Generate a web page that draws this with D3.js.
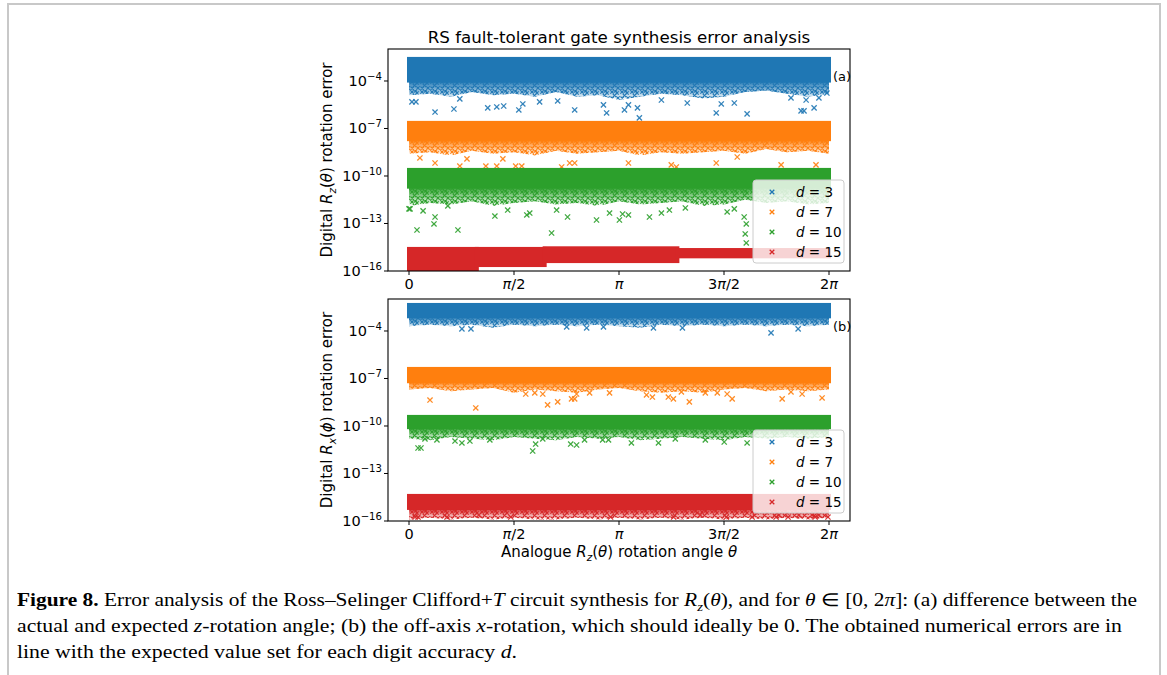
<!DOCTYPE html>
<html>
<head>
<meta charset="utf-8">
<script src="https://cdn.jsdelivr.net/npm/d3@7"></script>
<style>
  body { margin: 0; background: #fff; }
  svg text { font-family: "DejaVu Sans", sans-serif; fill: #000; }
  svg .caption text { font-family: "Liberation Serif", serif; }
</style>
</head>
<body>
<div id="root"></div>
<script>
// ---- data (θ in multiples of π, errors as log10 exponents) ----
const digitLabels = ["3", "7", "10", "15"];
const seriesColors = ["#1f77b4", "#ff7f0e", "#2ca02c", "#d62728"];
const thetaTicks = [0, 0.5, 1, 1.5, 2];
const thetaTickLabels = [["0"], ["π", "/2"], ["π"], ["3", "π", "/2"], ["2", "π"]];
const errorTicks = [-4, -7, -10, -13, -16];
const fringeTheta = [0, 0.1, 0.2, 0.3, 0.4, 0.5, 0.6, 0.7, 0.8, 0.9, 1.0,
                     1.1, 1.2, 1.3, 1.4, 1.5, 1.6, 1.7, 1.8, 1.9, 2.0];

// panel (a): Rz rotation error
// dense core segments: [θ start, θ end, log10 top, log10 bottom]
const coreA3 = [[0, 2, -2.48, -4.1]];
const coreA7 = [[0, 2, -6.52, -7.8]];
const coreA10 = [[0, 2, -9.49, -10.8]];
const coreA15 = [[0, 0.323, -14.48, -16], [0.323, 0.646, -14.48, -15.75],
                 [0.646, 1.278, -14.44, -15.5], [1.278, 2, -14.55, -15.2]];
// lower edge of the speckled fringe, one value per fringeTheta
const fringeA3 = [-4.9, -4.8, -5.0, -4.7, -4.9, -4.8, -5.0, -4.7, -5.0, -4.9, -5.2,
                  -5.0, -4.8, -4.9, -5.1, -5.0, -4.7, -4.6, -4.8, -5.0, -4.8];
const fringeA7 = [-8.6, -8.5, -8.7, -8.4, -8.6, -8.5, -8.7, -8.4, -8.6, -8.5, -8.4,
                  -8.7, -8.5, -8.6, -8.5, -8.4, -8.6, -8.3, -8.5, -8.4, -8.6];
const fringeA10 = [-11.9, -11.7, -11.8, -11.6, -11.9, -11.7, -11.6, -11.8, -11.7, -11.9, -11.6,
                   -11.8, -11.7, -11.6, -11.9, -11.8, -11.5, -11.7, -11.6, -11.8, -11.7];
const fringeA15 = null;
// isolated points below each band: [θ, log10 error]
const outA3 = [[0.014, -5.32], [0.033, -5.32], [0.124, -5.96], [0.214, -5.77], [0.242, -5.13],
  [0.375, -5.70], [0.418, -5.64], [0.451, -5.58], [0.523, -5.83], [0.542, -5.45],
  [0.622, -5.32], [0.708, -5.26], [0.789, -5.83], [0.926, -5.51], [0.941, -6.02],
  [1.026, -5.83], [1.045, -5.51], [1.088, -5.70], [1.097, -6.33], [1.202, -5.20],
  [1.325, -5.39], [1.463, -6.02], [1.487, -5.45], [1.549, -5.39], [1.610, -6.08],
  [1.819, -5.07], [1.867, -5.89], [1.881, -5.89], [1.929, -5.70], [1.891, -5.20],
  [1.952, -5.07], [1.990, -4.76]];
const outA7 = [[0.052, -8.86], [0.124, -9.18], [0.242, -9.37], [0.276, -8.92], [0.366, -9.37],
  [0.418, -9.37], [0.447, -8.92], [0.508, -9.37], [0.537, -9.37], [0.727, -9.43],
  [0.765, -9.18], [0.789, -9.18], [1.045, -9.18], [1.249, -9.30], [1.273, -9.43],
  [1.463, -9.18], [1.563, -8.80], [1.772, -9.30], [1.938, -9.30]];
const outA10 = [[0.0, -12.08], [0.005, -12.08], [0.067, -12.2], [0.038, -13.41], [0.124, -12.59],
  [0.119, -13.03], [0.233, -13.41], [0.185, -11.89], [0.409, -12.53], [0.470, -12.15],
  [0.561, -12.46], [0.575, -12.34], [0.679, -13.6], [0.703, -12.15], [0.755, -12.59],
  [0.893, -12.78], [0.955, -12.34], [1.002, -12.78], [1.017, -12.4], [1.045, -12.46],
  [1.145, -12.59], [1.202, -12.34], [1.240, -12.15], [1.316, -12.02], [1.515, -12.27],
  [1.549, -12.08], [1.596, -12.59], [1.601, -13.66], [1.606, -14.23], [1.606, -13.03]];
const outA15 = [];

// panel (b): Rx off-axis rotation error
const coreB3 = [[0, 2, -2.23, -3.2]];
const coreB7 = [[0, 2, -6.27, -7.3]];
const coreB10 = [[0, 2, -9.30, -10.2]];
const coreB15 = [[0, 2, -14.29, -15.3]];
const fringeB3 = [-3.7, -3.6, -3.7, -3.6, -3.8, -3.6, -3.7, -3.6, -3.7, -3.6, -3.7,
                  -3.8, -3.6, -3.7, -3.6, -3.7, -3.6, -3.7, -3.6, -3.7, -3.6];
const fringeB7 = [-7.7, -7.6, -7.8, -7.7, -7.6, -7.9, -7.7, -7.8, -7.9, -7.7, -7.6,
                  -7.8, -7.9, -7.8, -7.9, -7.7, -7.6, -7.8, -7.7, -7.8, -7.7];
const fringeB10 = [-10.8, -10.9, -10.7, -10.8, -10.9, -10.7, -10.8, -10.9, -10.7, -10.8, -10.7,
                   -10.9, -10.8, -10.7, -10.8, -10.9, -10.7, -10.8, -10.7, -10.8, -10.7];
const fringeB15 = [-15.9, -15.8, -15.9, -15.8, -15.9, -15.8, -15.9, -15.9, -15.8, -15.9, -15.8,
                   -15.9, -15.8, -15.9, -15.8, -15.9, -15.8, -15.9, -15.8, -15.9, -15.8];
const outB3 = [[0.252, -3.87], [0.295, -3.87], [0.751, -3.74], [0.846, -3.81], [0.926, -3.74],
  [1.164, -3.81], [1.302, -3.81], [1.724, -4.12], [1.853, -3.87]];
const outB7 = [[0.1, -8.36], [0.318, -8.86], [0.556, -7.98], [0.599, -7.91], [0.637, -7.98],
  [0.660, -8.67], [0.708, -8.48], [0.774, -8.29], [0.789, -8.29], [0.798, -7.98],
  [0.860, -7.91], [0.955, -7.91], [1.131, -8.04], [1.159, -8.17], [1.235, -8.17],
  [1.259, -8.29], [1.335, -8.48], [1.297, -7.85], [1.411, -7.91], [1.468, -7.91],
  [1.515, -7.98], [1.539, -8.29], [1.777, -8.29], [1.819, -7.85], [1.872, -7.98], [1.967, -8.23]];
const outB10 = [[0.043, -11.39], [0.057, -11.39], [0.076, -10.82], [0.133, -10.88], [0.219, -10.95],
  [0.252, -11.07], [0.29, -10.95], [0.385, -10.88], [0.589, -11.58], [0.603, -11.14],
  [0.637, -10.82], [0.770, -11.14], [0.798, -11.2], [0.836, -10.88], [0.922, -10.88],
  [0.950, -10.88], [1.059, -11.07], [1.188, -11.07], [1.268, -10.82], [1.411, -10.88],
  [1.501, -11.01], [1.610, -11.07]];
const outB15 = [[0.029, -15.75], [0.043, -15.75], [0.181, -15.75], [0.333, -15.62], [0.485, -15.75],
  [0.960, -15.75], [1.26, -15.75], [1.387, -15.62], [1.511, -15.75], [1.634, -15.75],
  [1.748, -15.75], [1.805, -15.75], [1.934, -15.75], [1.995, -15.75], [1.762, -15.62],
  [1.857, -15.62], [1.919, -15.62], [1.952, -15.62]];

// ---- layout ----
const W = 1167, H = 675;
const svg = d3.select("#root").append("svg")
  .attr("width", W).attr("height", H);

// page frame of the article
svg.append("rect")
  .attr("x", 8).attr("y", 4).attr("width", 1152).attr("height", 700)
  .attr("fill", "none").attr("stroke", "#c8c8c8").attr("stroke-width", 2);

const defs = svg.append("defs");

// irregular scatter of small crosses, used as texture for the band fringes
const speckleSpots = [[2, 2], [7, 3], [4.5, 5.5], [8, 8], [2.2, 8.2], [5.5, 1]];
seriesColors.forEach((c, i) => {
  const p = defs.append("pattern")
    .attr("id", `speckle-${i}`)
    .attr("width", 10).attr("height", 10)
    .attr("patternUnits", "userSpaceOnUse");
  p.selectAll("path").data(speckleSpots).enter().append("path")
    .attr("transform", (d) => `translate(${d[0]},${d[1]})`)
    .attr("d", "M-1.7,-1.7L1.7,1.7M1.7,-1.7L-1.7,1.7")
    .attr("stroke", c).attr("stroke-width", 1.1).attr("fill", "none");

  const gr = defs.append("linearGradient")
    .attr("id", `fade-${i}`)
    .attr("x1", 0).attr("y1", 0).attr("x2", 0).attr("y2", 1);
  gr.append("stop").attr("offset", 0).attr("stop-color", c).attr("stop-opacity", 0.95);
  gr.append("stop").attr("offset", 0.55).attr("stop-color", c).attr("stop-opacity", 0.45);
  gr.append("stop").attr("offset", 1).attr("stop-color", c).attr("stop-opacity", 0.0);
});

const xScale = d3.scaleLinear().domain([-0.1, 2.1]).range([388, 850]);
const yDomain = [1e-16, Math.pow(10, -1.98)];
const pow10 = (e) => Math.pow(10, e);

function xMarker(size) {
  return `M${-size},${-size}L${size},${size}M${size},${-size}L${-size},${size}`;
}

// writes mathtext-like rich text: parts {t, i (italic), sub, sup}
function richText(sel, parts, size) {
  let shift = 0;
  parts.forEach((p) => {
    const ts = sel.append("tspan").text(p.t);
    if (p.i) ts.attr("font-style", "italic");
    let target = 0;
    if (p.sub) target = size * 0.28;
    if (p.sup) target = -size * 0.42;
    if (target !== shift) { ts.attr("dy", target - shift); shift = target; }
    if (p.sub || p.sup) ts.attr("font-size", size * 0.7);
  });
}

function drawPanel(cfg) {
  const yScale = d3.scaleLog().domain(yDomain).range([cfg.bottom, cfg.top]);
  const g = svg.append("g").attr("class", `panel-${cfg.tag}`);

  const clipId = `clip-${cfg.tag}`;
  defs.append("clipPath").attr("id", clipId)
    .append("rect")
    .attr("x", 388).attr("y", cfg.top)
    .attr("width", 462).attr("height", cfg.bottom - cfg.top);

  const plot = g.append("g").attr("clip-path", `url(#${clipId})`);

  cfg.series.forEach((s, i) => {
    const color = seriesColors[i];
    const sg = plot.append("g").attr("class", `series-d${digitLabels[i]}`);

    // fuzzy fringe between the solid core and the ragged lower edge
    if (s.fringe) {
      const coreBottom = d3.min(s.core, (d) => d[3]);
      const area = d3.area()
        .x((d, k) => xScale(fringeTheta[k]))
        .y0(() => yScale(pow10(coreBottom)) - 1)
        .y1((d) => yScale(pow10(d)))
        .curve(d3.curveLinear);
      sg.append("path").attr("d", area(s.fringe)).attr("fill", `url(#fade-${i})`);
      sg.append("path").attr("d", area(s.fringe)).attr("fill", `url(#speckle-${i})`);
    }

    // dense core of the band
    sg.selectAll("rect.core")
      .data(s.core)
      .enter()
      .append("rect")
      .attr("class", "core")
      .attr("x", (d) => xScale(d[0]) - 2)
      .attr("width", (d) => xScale(d[1]) - xScale(d[0]) + 4)
      .attr("y", (d) => yScale(pow10(d[2])))
      .attr("height", (d) => yScale(pow10(d[3])) - yScale(pow10(d[2])))
      .attr("fill", color);

    // isolated points
    sg.selectAll("path.pt")
      .data(s.outliers)
      .enter()
      .append("path")
      .attr("class", "pt")
      .attr("transform", (d) => `translate(${xScale(d[0])},${yScale(pow10(d[1]))})`)
      .attr("d", xMarker(2.6))
      .attr("stroke", color)
      .attr("stroke-width", 1.3)
      .attr("stroke-opacity", 0.9)
      .attr("fill", "none");
  });

  // frame
  g.append("rect")
    .attr("x", 388).attr("y", cfg.top)
    .attr("width", 462).attr("height", cfg.bottom - cfg.top)
    .attr("fill", "none").attr("stroke", "#000").attr("stroke-width", 1.1);

  // y ticks
  const yTicks = g.selectAll(".ytick").data(errorTicks).enter()
    .append("g").attr("class", "ytick")
    .attr("transform", (d) => `translate(388,${yScale(pow10(d))})`);
  yTicks.append("line").attr("x1", -4).attr("x2", 0)
    .attr("stroke", "#000").attr("stroke-width", 1);
  yTicks.append("text")
    .attr("x", -6).attr("y", 5)
    .attr("text-anchor", "end")
    .attr("font-size", 14.5)
    .each(function (d) {
      richText(d3.select(this), [{ t: "10" }, { t: "\u2212" + Math.abs(d), sup: true }], 14.5);
    });

  // x ticks
  const xTicks = g.selectAll(".xtick").data(thetaTicks).enter()
    .append("g").attr("class", "xtick")
    .attr("transform", (d) => `translate(${xScale(d)},${cfg.bottom})`);
  xTicks.append("line").attr("y1", 0).attr("y2", 4)
    .attr("stroke", "#000").attr("stroke-width", 1);
  xTicks.append("text")
    .attr("y", 18)
    .attr("text-anchor", "middle")
    .attr("font-size", 14.5)
    .each(function (d, k) {
      const parts = thetaTickLabels[k].map((t) => ({ t, i: t === "π" }));
      richText(d3.select(this), parts, 14.5);
    });

  // y label
  const yl = g.append("text")
    .attr("transform", `translate(332,${(cfg.top + cfg.bottom) / 2}) rotate(-90)`)
    .attr("text-anchor", "middle")
    .attr("font-size", 15);
  richText(yl, cfg.yLabel, 15);

  // panel tag
  g.append("text")
    .attr("x", 833).attr("y", cfg.tagY)
    .attr("font-size", 13)
    .text(`(${cfg.tag})`);

  // legend
  const lg = g.append("g")
    .attr("transform", `translate(753,${cfg.legendTop})`);
  lg.append("rect")
    .attr("width", 91).attr("height", 83)
    .attr("rx", 3)
    .attr("fill", "#fff").attr("fill-opacity", 0.8)
    .attr("stroke", "#cccccc").attr("stroke-width", 1);
  const rows = lg.selectAll(".lrow").data(digitLabels).enter()
    .append("g").attr("class", "lrow")
    .attr("transform", (d, k) => `translate(0,${12 + k * 20})`);
  rows.append("path")
    .attr("transform", "translate(19,0)")
    .attr("d", xMarker(2.3))
    .attr("stroke", (d, k) => seriesColors[k])
    .attr("stroke-width", 1.3)
    .attr("fill", "none");
  rows.append("text")
    .attr("x", 43).attr("y", 5)
    .attr("font-size", 13.5)
    .each(function (d) {
      richText(d3.select(this), [{ t: "d", i: true }, { t: " = " + d }], 13.5);
    });
}

drawPanel({
  tag: "a", top: 49, bottom: 271, tagY: 81, legendTop: 180,
  yLabel: [{ t: "Digital " }, { t: "R", i: true }, { t: "z", i: true, sub: true },
           { t: "(" }, { t: "θ", i: true }, { t: ") rotation error" }],
  series: [
    { core: coreA3, fringe: fringeA3, outliers: outA3 },
    { core: coreA7, fringe: fringeA7, outliers: outA7 },
    { core: coreA10, fringe: fringeA10, outliers: outA10 },
    { core: coreA15, fringe: fringeA15, outliers: outA15 },
  ],
});

drawPanel({
  tag: "b", top: 299, bottom: 521, tagY: 331, legendTop: 430,
  yLabel: [{ t: "Digital " }, { t: "R", i: true }, { t: "x", i: true, sub: true },
           { t: "(" }, { t: "ϕ", i: true }, { t: ") rotation error" }],
  series: [
    { core: coreB3, fringe: fringeB3, outliers: outB3 },
    { core: coreB7, fringe: fringeB7, outliers: outB7 },
    { core: coreB10, fringe: fringeB10, outliers: outB10 },
    { core: coreB15, fringe: fringeB15, outliers: outB15 },
  ],
});

// title and shared x label
svg.append("text")
  .attr("x", 619).attr("y", 43)
  .attr("text-anchor", "middle")
  .attr("font-size", 16.7)
  .text("RS fault-tolerant gate synthesis error analysis");

const xl = svg.append("text")
  .attr("x", 619).attr("y", 557)
  .attr("text-anchor", "middle")
  .attr("font-size", 15);
richText(xl, [{ t: "Analogue " }, { t: "R", i: true }, { t: "z", i: true, sub: true },
              { t: "(" }, { t: "θ", i: true }, { t: ") rotation angle " }, { t: "θ", i: true }], 15);

// caption
const captionLines = [
  { y: 606, len: 1120, parts: [
    { t: "Figure 8.", b: true },
    { t: " Error analysis of the Ross\u2013Selinger Clifford+" }, { t: "T", i: true },
    { t: " circuit synthesis for " }, { t: "R", i: true }, { t: "z", i: true, sub: true },
    { t: "(" }, { t: "θ", i: true }, { t: "), and for " }, { t: "θ", i: true },
    { t: " \u2208 [0, 2" }, { t: "π", i: true },
    { t: "]: (a) difference between the" }] },
  { y: 632, len: 1105, parts: [
    { t: "actual and expected " }, { t: "z", i: true },
    { t: "-rotation angle; (b) the off-axis " }, { t: "x", i: true },
    { t: "-rotation, which should ideally be 0. The obtained numerical errors are in" }] },
  { y: 658, len: 500, parts: [
    { t: "line with the expected value set for each digit accuracy " }, { t: "d", i: true },
    { t: "." }] },
];
const cap = svg.append("g").attr("class", "caption");
captionLines.forEach((line) => {
  const t = cap.append("text")
    .attr("x", 17).attr("y", line.y)
    .attr("font-size", 18)
    .attr("textLength", line.len)
    .attr("lengthAdjust", "spacingAndGlyphs");
  richText(t, line.parts, 18);
  t.selectAll("tspan").each(function (d, k) {
    if (line.parts[k].b) d3.select(this).attr("font-weight", "bold");
  });
});
</script>
</body>
</html>
